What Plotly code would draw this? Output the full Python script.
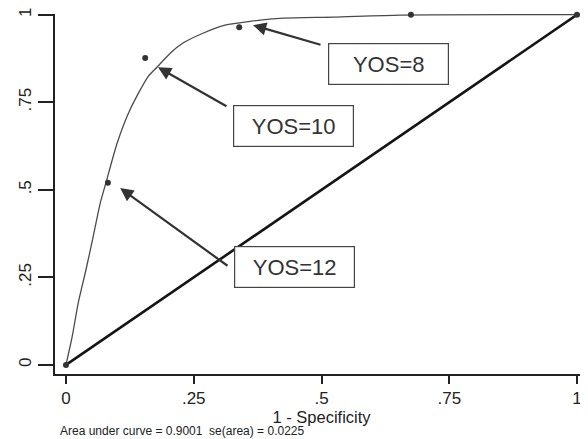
import plotly.graph_objects as go

# Observed operating points (1 - specificity, sensitivity)
obs_fpr = [0.0, 0.082, 0.155, 0.339, 0.675, 1.0]
obs_tpr = [0.0, 0.520, 0.876, 0.964, 1.0, 1.0]

# Fitted smooth ROC curve
fit_fpr = [0.0, 0.012, 0.024, 0.039, 0.053, 0.067, 0.078, 0.100, 0.125, 0.160,
           0.178, 0.204, 0.229, 0.268, 0.311, 0.360, 0.425, 0.523, 0.654, 1.0]
fit_tpr = [0.0, 0.080, 0.177, 0.271, 0.365, 0.462, 0.519, 0.633, 0.728, 0.822,
           0.850, 0.890, 0.919, 0.947, 0.970, 0.981, 0.990, 0.993, 0.999, 1.0]

# Reference (chance) line
diag_x = [0.0, 1.0]
diag_y = [0.0, 1.0]

# Labels: text, box centre, arrow head, arrow tail
labels = ["YOS=8", "YOS=10", "YOS=12"]
box_x = [0.631, 0.445, 0.448]
box_y = [0.860, 0.682, 0.280]
head_x = [0.366, 0.180, 0.106]
head_y = [0.970, 0.850, 0.505]
tail_x = [0.501, 0.317, 0.319]
tail_y = [0.913, 0.736, 0.280]

tick_vals = [0, 0.25, 0.5, 0.75, 1]
tick_text = ["0", ".25", ".5", ".75", "1"]
x_title = "1 - Specificity"
note = "Area under curve = 0.9001  se(area) = 0.0225"

FONT = "Liberation Sans, Arial, sans-serif"

fig = go.Figure()
fig.add_trace(go.Scatter(x=diag_x, y=diag_y, mode="lines",
                         line=dict(color="#151515", width=2.6), showlegend=False))
fig.add_trace(go.Scatter(x=fit_fpr, y=fit_tpr, mode="lines",
                         line=dict(color="#4a4a4a", width=1.3, shape="spline", smoothing=0.6),
                         showlegend=False))
fig.add_trace(go.Scatter(x=obs_fpr, y=obs_tpr, mode="markers",
                         marker=dict(color="#333333", size=6), showlegend=False,
                         cliponaxis=False))

annotations = []
for t, bx, by, hx, hy, tx, ty in zip(labels, box_x, box_y, head_x, head_y, tail_x, tail_y):
    annotations.append(dict(x=hx, y=hy, xref="x", yref="y", ax=tx, ay=ty,
                            axref="x", ayref="y", text="", showarrow=True,
                            arrowhead=2, arrowsize=1.2, arrowwidth=2.2,
                            arrowcolor="#333333", standoff=0, startstandoff=0))
    annotations.append(dict(x=bx, y=by, xref="x", yref="y", text=t, showarrow=False,
                            font=dict(family=FONT, size=22, color="#333333"),
                            bordercolor="#444444", borderwidth=1.2, borderpad=2,
                            width=115, height=36, bgcolor="white"))
annotations.append(dict(x=0.006, y=-0.158, xref="paper", yref="paper", text=note,
                        showarrow=False, xanchor="left", yanchor="middle",
                        font=dict(family=FONT, size=12, color="#222222")))

# The page body adds an 8px offset, so the figure is sized to fill the rest of the window.
fig.update_layout(
    width=580, height=431,
    margin=dict(l=47, r=0, t=6, b=65, autoexpand=False),
    paper_bgcolor="white", plot_bgcolor="white",
    font=dict(family=FONT, color="#222222"),
    annotations=annotations,
    xaxis=dict(range=[-0.0215, 1.0215], tickvals=tick_vals, ticktext=tick_text,
               showgrid=False, zeroline=False, showline=True, linecolor="#222222",
               linewidth=2, ticks="outside", ticklen=8, tickwidth=1.5,
               tickcolor="#222222", tickfont=dict(size=17), automargin=False,
               ticklabeloverflow="allow",
               title=dict(text=x_title, font=dict(size=16.5), standoff=2)),
    yaxis=dict(range=[-0.026, 1.002], tickvals=tick_vals, ticktext=tick_text,
               showgrid=False, zeroline=False, showline=True, linecolor="#222222",
               linewidth=2, ticks="outside", ticklen=15, tickwidth=1.5,
               tickcolor="#222222", tickfont=dict(size=17), tickangle=-90,
               automargin=False, ticklabeloverflow="allow"),
)

fig.write_html("out.html")
